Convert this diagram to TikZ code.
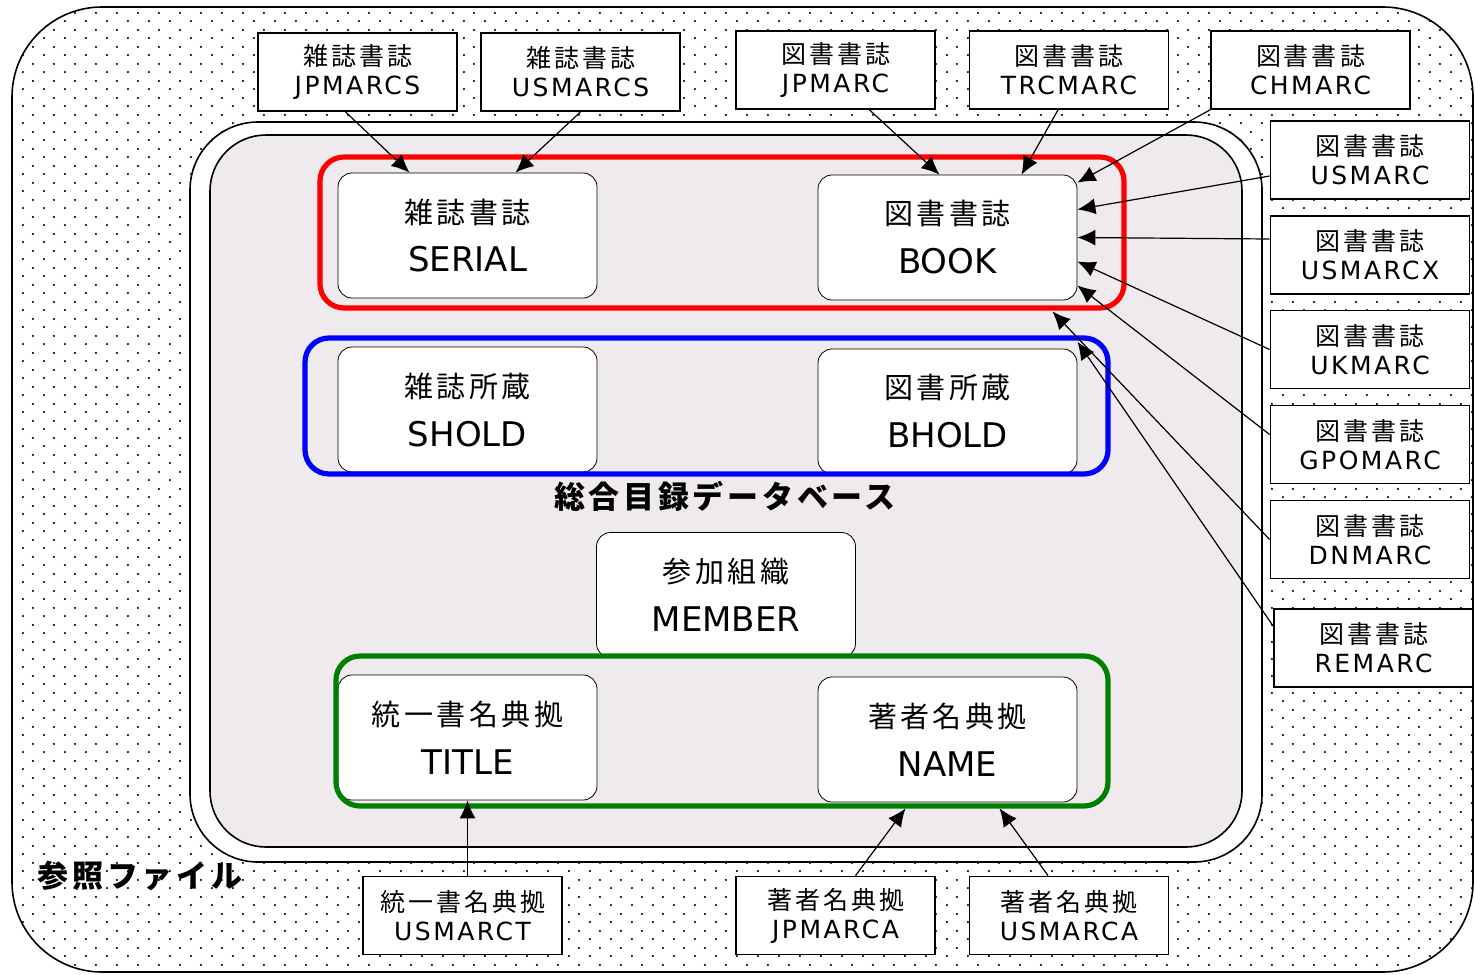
\documentclass[tikz,border=0pt]{standalone}
\usepackage{fontspec}
\setmainfont{DejaVu Sans}
\newfontfamily\jpfont[LetterSpace=12]{Noto Sans CJK JP}
\newfontfamily\srcfont[LetterSpace=10]{DejaVu Sans}
\usetikzlibrary{arrows.meta,patterns.meta}
\tikzset{>={Latex[length=9pt,width=8pt]}}

\tikzdeclarepattern{
  name=sparsedots,
  type=uncolored,
  bottom left={(0pt,0pt)},
  top right={(10.5pt,8.3pt)},
  tile size={(10.5pt,8.3pt)},
  code={
    \fill (1pt,1pt) circle (0.6pt);
    \fill (6.25pt,5.15pt) circle (0.6pt);
  }
}

\definecolor{dbfill}{RGB}{238,234,238}
\newcommand\jpin{\jpfont\fontsize{14.5}{14.5}\selectfont}
\newcommand\jpsrc{\jpfont\fontsize{12.5}{12.5}\selectfont}

\begin{document}
\begin{tikzpicture}[x=0.5pt,y=-0.5pt,
    dbbox/.style={draw,fill=white,rounded corners=7pt,minimum width=129.5pt,minimum height=62.5pt,align=center,font=\fontsize{17}{24.5}\selectfont},
    srcbox/.style={draw,fill=white,line width=0.9pt,minimum width=99.5pt,minimum height=39pt,align=center,font=\srcfont\fontsize{12.5}{14.5}\selectfont},
    groupframe/.style={line width=2.6pt,rounded corners=12pt},
    feed/.style={->,line width=0.6pt},
    biglabel/.style={font=\jpfont\bfseries\fontsize{15.5}{15.5}\selectfont}]
    \useasboundingbox (0,0) rectangle (1475,974);

    % reference files and database areas
    \draw[line width=0.8pt,rounded corners=45pt,pattern=sparsedots,pattern color=black] (12,7) rectangle (1473,972);
    \draw[line width=0.8pt,fill=white,rounded corners=34pt] (190,122) rectangle (1262,862);
    \draw[line width=0.8pt,fill=dbfill,rounded corners=28pt] (210,135) rectangle (1242,847);

    \node[biglabel] (reflabel) at (140,876) {参照ファイル};
    \node[biglabel] (dblabel) at (725,496) {総合目録データベース};

    % database files
    \node[dbbox] (serial) at (467.5,235.5) {{\jpin 雑誌書誌}\\SERIAL};
    \node[dbbox] (book) at (947.5,237.5) {{\jpin 図書書誌}\\BOOK};
    \node[dbbox] (shold) at (467.5,409.5) {{\jpin 雑誌所蔵}\\SHOLD};
    \node[dbbox] (bhold) at (947.5,411.5) {{\jpin 図書所蔵}\\BHOLD};
    \node[dbbox] (member) at (726,595) {{\jpin 参加組織}\\MEMBER};
    \node[dbbox] (title) at (467.5,737.5) {{\jpin 統一書名典拠}\\TITLE};
    \node[dbbox] (name) at (947.5,739.5) {{\jpin 著者名典拠}\\NAME};

    \draw[groupframe,red] (320,157) rectangle (1124,308);
    \draw[groupframe,blue] (305,338) rectangle (1108,474);
    \draw[groupframe,green!50!black] (336,656) rectangle (1108,806);

    % reference files
    \node[srcbox] (jpmarcs) at (357.5,72) {{\jpsrc 雑誌書誌}\\JPMARCS};
    \node[srcbox] (usmarcs) at (580.5,72) {{\jpsrc 雑誌書誌}\\USMARCS};
    \node[srcbox] (jpmarc) at (835.5,70) {{\jpsrc 図書書誌}\\JPMARC};
    \node[srcbox] (trcmarc) at (1069,70) {{\jpsrc 図書書誌}\\TRCMARC};
    \node[srcbox] (chmarc) at (1310.5,70) {{\jpsrc 図書書誌}\\CHMARC};
    \node[srcbox] (usmarc) at (1370,160) {{\jpsrc 図書書誌}\\USMARC};
    \node[srcbox] (usmarcx) at (1370,255) {{\jpsrc 図書書誌}\\USMARCX};
    \node[srcbox] (ukmarc) at (1370,349.5) {{\jpsrc 図書書誌}\\UKMARC};
    \node[srcbox] (gpomarc) at (1370,444.5) {{\jpsrc 図書書誌}\\GPOMARC};
    \node[srcbox] (dnmarc) at (1370,539.5) {{\jpsrc 図書書誌}\\DNMARC};
    \node[srcbox] (remarc) at (1373.5,648) {{\jpsrc 図書書誌}\\REMARC};
    \node[srcbox] (usmarct) at (462.5,915.5) {{\jpsrc 統一書名典拠}\\USMARCT};
    \node[srcbox] (jpmarca) at (835.5,915.5) {{\jpsrc 著者名典拠}\\JPMARCA};
    \node[srcbox] (usmarca) at (1069,915.5) {{\jpsrc 著者名典拠}\\USMARCA};

    % loads
    \draw[feed] ([xshift=-6pt]jpmarcs.south) -- ([xshift=-29pt]serial.north);
    \draw[feed] (usmarcs.south) -- ([xshift=24pt]serial.north);
    \draw[feed] ([xshift=17pt]jpmarc.south) -- ([xshift=-4pt]book.north);
    \draw[feed] ([xshift=-5.5pt]trcmarc.south) -- ([xshift=37pt]book.north);
    \draw[feed] (chmarc.south west) -- ([yshift=-4pt]book.north east);
    \draw[feed] ([yshift=-8pt]usmarc.west) -- ([yshift=14pt]book.east);
    \draw[feed] ([yshift=8pt]usmarcx.west) -- (book.east);
    \draw[feed] (ukmarc.west) -- ([yshift=-12pt]book.east);
    \draw[feed] ([yshift=5pt]gpomarc.west) -- ([yshift=-24pt]book.east);
    \draw[feed] (dnmarc.west) -- ([xshift=-12.5pt,yshift=-5.5pt]book.south east);
    \draw[feed] ([yshift=11pt]remarc.west) -- ([yshift=3.5pt]bhold.north east);
    \draw[feed] ([xshift=2.5pt]usmarct.north) -- (title.south);
    \draw[feed] ([xshift=10pt]jpmarca.north) -- ([xshift=-21pt,yshift=-3pt]name.south);
    \draw[feed] ([xshift=-10.5pt]usmarca.north) -- ([xshift=26pt,yshift=-3pt]name.south);
\end{tikzpicture}
\end{document}
